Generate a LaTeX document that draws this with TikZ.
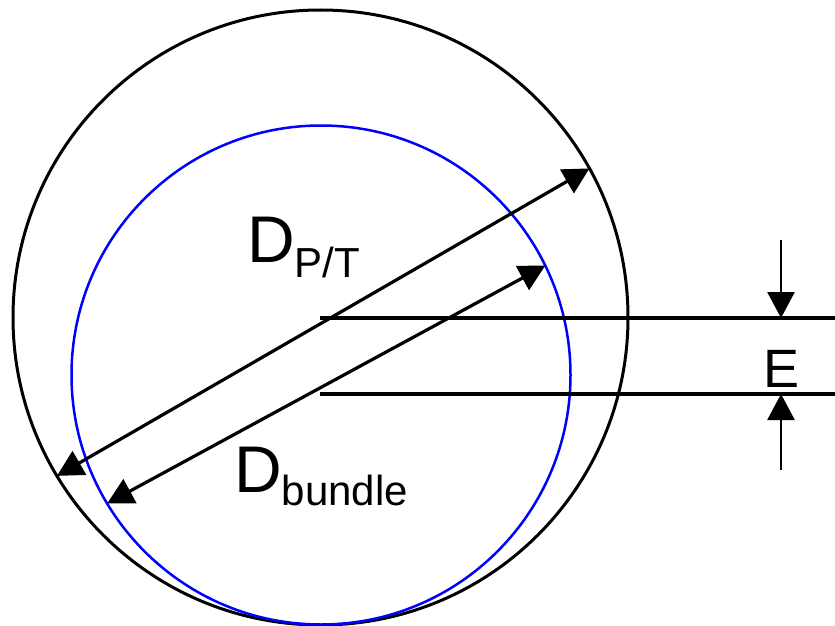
\documentclass[tikz,border=0pt]{standalone}
\usepackage{fontspec}
\setmainfont{Liberation Sans}
\usetikzlibrary{arrows.meta}

\begin{document}
\begin{tikzpicture}[
    x=1pt, y=-1pt,
    >={Triangle[length=26pt,width=27pt]},
    ring/.style={circle,draw,inner sep=0pt,outer sep=0pt},
    dimline/.style={line width=3.2pt},
    dimarrow/.style={<->,line width=3.2pt},
    lbl/.style={inner sep=0pt,anchor=base west},
  ]
  \useasboundingbox (0,0) rectangle (835,626);

  % --- the two circles ---
  \node[ring,line width=3pt,minimum size=615pt] (outer) at (320.5,317.5) {};
  \node[ring,draw=blue,line width=2.5pt,minimum size=499pt] (inner) at (321,375) {};

  % --- diameters ---
  \draw[dimarrow] (outer.211.6) -- (outer.29.7);
  \draw[dimarrow] (inner.211.2) -- (inner.26.5);

  \node[lbl] (dpt) at (247,262)
    {\fontsize{66}{66}\selectfont D\raisebox{-15pt}{\fontsize{42}{42}\selectfont P/T}};
  \node[lbl] (dbun) at (234,492)
    {\fontsize{66}{66}\selectfont D\raisebox{-13pt}{\fontsize{42}{42}\selectfont bundle}};

  % --- eccentricity ---
  \coordinate (c1) at (320,318);
  \coordinate (c1e) at (835,318);
  \coordinate (c2) at (320,394);
  \coordinate (c2e) at (835,394);
  \draw[dimline] (c1) -- (c1e);
  \draw[dimline] (c2) -- (c2e);

  \coordinate (etop) at (781,240);
  \coordinate (etopend) at (781,318);
  \coordinate (ebot) at (781,470);
  \coordinate (ebotend) at (781,394);
  \draw[->,line width=2.8pt] (etop) -- (etopend);
  \draw[->,line width=2.8pt] (ebot) -- (ebotend);
  \node[lbl,anchor=base] (elbl) at (781,387) {\fontsize{54}{54}\selectfont E};

\end{tikzpicture}
\end{document}
